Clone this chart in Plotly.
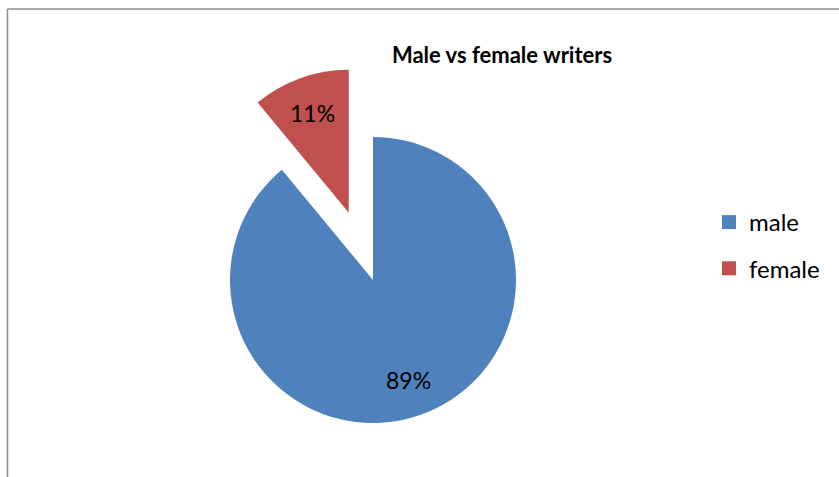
import math
import plotly.graph_objects as go

# ---- data ----
labels = ["male", "female"]
values = [89, 11]
colors = ["#4F81BD", "#C0504D"]
explode = [0.0, 0.5]          # fraction of radius each slice is pulled out
title_text = "Male vs female writers"

# ---- layout constants (pixels) ----
W, H = 839, 477
cx, cy, r = 373, 280, 143
label_r = 0.74                # data labels placed at this fraction of radius
FONT = "Lato"

fig = go.Figure()
total = float(sum(values))
start = 0.0
annotations = []
for i, v in enumerate(values):
    frac = v / total
    mid = (start + frac / 2.0) * 2 * math.pi   # clockwise from 12 o'clock
    start += frac
    pcx = cx + explode[i] * r * math.sin(mid)
    pcy = cy - explode[i] * r * math.cos(mid)
    cols = ["rgba(0,0,0,0)"] * len(values)
    cols[i] = colors[i]
    fig.add_trace(go.Pie(
        labels=labels, values=values, sort=False, direction="clockwise", rotation=0,
        marker=dict(colors=cols, line=dict(width=0)),
        textinfo="none",
        domain=dict(x=[(pcx - r) / W, (pcx + r) / W],
                    y=[1 - (pcy + r) / H, 1 - (pcy - r) / H]),
        showlegend=False, hoverinfo="label+percent",
    ))
    lx = pcx + label_r * r * math.sin(mid)
    ly = pcy - label_r * r * math.cos(mid)
    annotations.append(dict(
        x=lx / W, y=1 - ly / H, xref="paper", yref="paper",
        text="%d%%" % round(100 * frac), showarrow=False,
        xanchor="center", yanchor="middle",
        font=dict(family=FONT, size=23, color="black"),
    ))

# legend entries
for lab, col in zip(labels, colors):
    fig.add_trace(go.Scatter(
        x=[None], y=[None], mode="markers", name=lab, legendgroup=lab,
        marker=dict(symbol="square", size=14, color=col),
        hoverinfo="skip",
    ))

fig.update_layout(
    width=W, height=H,
    margin=dict(l=0, r=0, t=0, b=0),
    paper_bgcolor="white", plot_bgcolor="white",
    title=dict(text="<b>" + title_text + "</b>", x=502 / W, xanchor="center",
               y=1 - 55 / H, yanchor="middle",
               font=dict(family=FONT, size=22, color="black")),
    xaxis=dict(visible=False), yaxis=dict(visible=False),
    legend=dict(x=709 / W, xanchor="left", y=1 - 245.5 / H, yanchor="middle",
                font=dict(family=FONT, size=24, color="black"),
                traceorder="grouped", tracegroupgap=12,
                bgcolor="rgba(0,0,0,0)"),
    annotations=annotations,
    shapes=[
        dict(type="line", xref="paper", yref="paper", x0=7.5 / W, x1=1.05,
             y0=1 - 9 / H, y1=1 - 9 / H, line=dict(color="#8C8C8C", width=1.5)),
        dict(type="line", xref="paper", yref="paper", x0=7.5 / W, x1=7.5 / W,
             y0=1 - 9 / H, y1=-0.05, line=dict(color="#8C8C8C", width=1.5)),
    ],
)

fig.write_html("out.html")
